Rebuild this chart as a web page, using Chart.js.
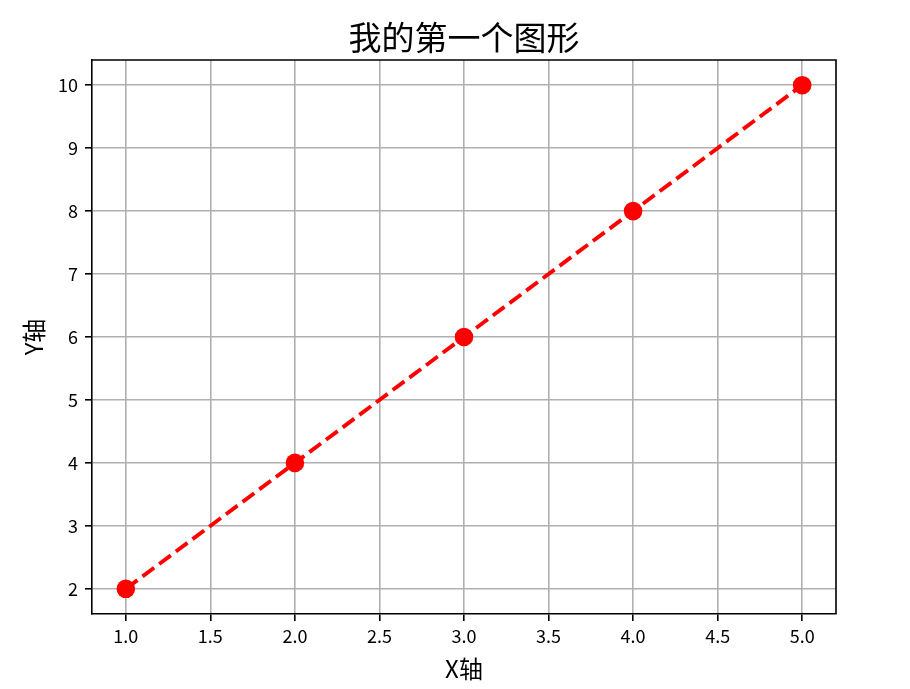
<!DOCTYPE html>
<html>
<head>
<meta charset="utf-8">
<script src="https://cdn.jsdelivr.net/npm/chart.js@4/dist/chart.umd.min.js"></script>
<style>
  html, body { margin: 0; padding: 0; background: #fff; }
  #wrap { width: 910px; height: 689px; }
</style>
</head>
<body>
<div id="wrap"><canvas id="chart" width="910" height="689"></canvas></div>
<script>
// 数据
const xValues = [1, 2, 3, 4, 5];
const yValues = [2, 4, 6, 8, 10];
const xTicks = [1.0, 1.5, 2.0, 2.5, 3.0, 3.5, 4.0, 4.5, 5.0];
const yTicks = [2, 3, 4, 5, 6, 7, 8, 9, 10];
const titleText = '我的第一个图形';

const FONT = '"Noto Sans CJK SC", "DejaVu Sans", sans-serif';
Chart.defaults.color = '#000';
Chart.defaults.font.family = FONT;

// 上边和右边的边框，标题居中于绘图区
const frame = {
    id: 'frame',
    afterDraw(chart) {
        const { ctx, chartArea: a } = chart;
        ctx.save();
        ctx.strokeStyle = '#000';
        ctx.lineWidth = 1.6;
        ctx.beginPath();
        ctx.moveTo(a.left, a.top);
        ctx.lineTo(a.right, a.top);
        ctx.lineTo(a.right, a.bottom);
        ctx.stroke();

        ctx.fillStyle = '#000';
        ctx.font = '33px ' + FONT;
        ctx.textAlign = 'center';
        ctx.textBaseline = 'middle';
        ctx.fillText(titleText, (a.left + a.right) / 2, 37);
        ctx.restore();
    }
};

new Chart(document.getElementById('chart'), {
    type: 'line',
    data: {
        datasets: [{
            data: xValues.map((x, i) => ({ x: x, y: yValues[i] })),
            borderColor: '#ff0000',
            backgroundColor: '#ff0000',
            borderWidth: 3.9,
            borderDash: [14.5, 6.3],
            borderCapStyle: 'butt',
            pointRadius: 9.3,
            pointBorderWidth: 0,
            pointBackgroundColor: '#ff0000',
            fill: false,
            tension: 0
        }]
    },
    options: {
        responsive: false,
        animation: false,
        layout: { padding: { top: 60, left: 0, right: 74, bottom: 0 } },
        plugins: {
            legend: { display: false },
            tooltip: { enabled: false },
            title: { display: false }
        },
        scales: {
            x: {
                type: 'linear',
                min: 0.8,
                max: 5.2,
                afterBuildTicks: scale => { scale.ticks = xTicks.map(v => ({ value: v })); },
                afterFit: scale => { scale.height = 75; },
                grid: { color: '#b0b0b0', lineWidth: 1.6, tickLength: 7, tickColor: '#000', tickWidth: 1.6 },
                border: { color: '#000', width: 1.6 },
                ticks: {
                    padding: 4,
                    maxRotation: 0,
                    autoSkip: false,
                    font: { size: 18 },
                    callback: v => Number(v).toFixed(1)
                },
                title: {
                    display: true,
                    text: 'X轴',
                    font: { size: 24, family: FONT },
                    padding: { top: 0, bottom: 6 }
                }
            },
            y: {
                type: 'linear',
                min: 1.6,
                max: 10.4,
                afterBuildTicks: scale => { scale.ticks = yTicks.map(v => ({ value: v })); },
                afterFit: scale => { scale.width = 92; },
                grid: { color: '#b0b0b0', lineWidth: 1.6, tickLength: 7, tickColor: '#000', tickWidth: 1.6 },
                border: { color: '#000', width: 1.6 },
                ticks: {
                    padding: 7,
                    autoSkip: false,
                    font: { size: 18 }
                },
                title: {
                    display: true,
                    text: 'Y轴',
                    font: { size: 24, family: FONT },
                    padding: { top: 19, bottom: 0 }
                }
            }
        }
    },
    plugins: [frame]
});
</script>
</body>
</html>
